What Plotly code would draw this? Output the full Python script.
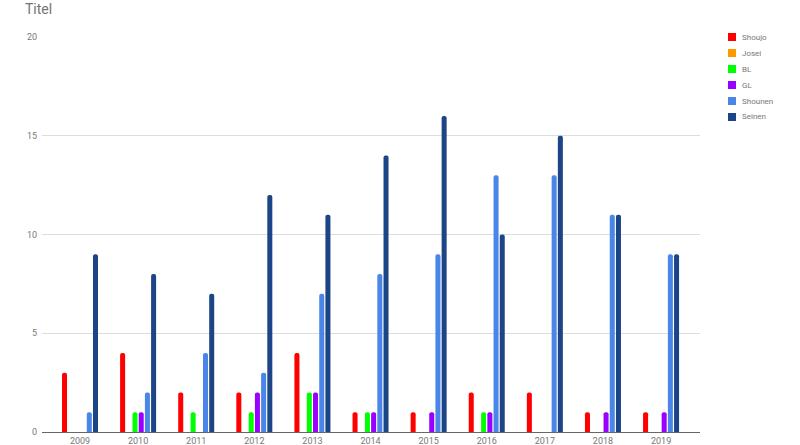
import plotly.graph_objects as go

years = ["2009", "2010", "2011", "2012", "2013", "2014", "2015", "2016", "2017", "2018", "2019"]
shoujo = [3, 4, 2, 2, 4, 1, 1, 2, 2, 1, 1]
josei = [0, 0, 0, 0, 0, 0, 0, 0, 0, 0, 0]
bl = [0, 1, 1, 1, 2, 1, 0, 1, 0, 0, 0]
gl = [0, 1, 0, 2, 2, 1, 1, 1, 0, 1, 1]
shounen = [1, 2, 4, 3, 7, 8, 9, 13, 13, 11, 9]
seinen = [9, 8, 7, 12, 11, 14, 16, 10, 15, 11, 9]

names = ["Shoujo", "Josei", "BL", "GL", "Shounen", "Seinen"]
values = [shoujo, josei, bl, gl, shounen, seinen]
colors = ["#ff0000", "#ff9900", "#00ff00", "#9900ff", "#4a86e8", "#1c4587"]

W, H = 800, 445
ML, MR, MT, MB = 42, 100, 37, 13

fig = go.Figure()
for name, vals, col in zip(names, values, colors):
    fig.add_trace(go.Bar(x=years, y=vals, name=name, showlegend=False,
                         marker=dict(color=col, line=dict(width=0), cornerradius=2)))

# custom compact legend (Google-Sheets style)
shapes = []
annotations = []
pw = W - ML - MR
ph = H - MT - MB
for i, (name, col) in enumerate(zip(names, colors)):
    cy = 37 + i * 16.0
    x0 = (728 - ML) / pw
    x1 = (736 - ML) / pw
    y0 = (H - MB - (cy + 4)) / ph
    y1 = (H - MB - (cy - 4)) / ph
    shapes.append(dict(type="rect", xref="paper", yref="paper", x0=x0, x1=x1, y0=y0, y1=y1,
                       fillcolor=col, line=dict(width=0)))
    annotations.append(dict(xref="paper", yref="paper", x=(740 - ML) / pw, y=(H - MB - cy) / ph,
                            xanchor="left", yanchor="middle", showarrow=False, text=name,
                            font=dict(family="Roboto", size=8, color="#777777")))

fig.update_layout(
    width=W, height=H,
    paper_bgcolor="white", plot_bgcolor="white",
    margin=dict(l=ML, r=MR, t=MT, b=MB, autoexpand=False),
    barmode="group", bargap=0.36, bargroupgap=0.19,
    title=dict(text="Titel", x=25 / W, xanchor="left", y=1 - 9 / H, yanchor="middle",
               font=dict(family="Roboto", size=14, color="#757575")),
    font=dict(family="Roboto", size=9, color="#666666"),
    showlegend=False,
    shapes=shapes,
    annotations=annotations,
    xaxis=dict(type="category", range=[-0.654, 10.67], showgrid=False, showline=True, automargin=False,
               linecolor="#666666", linewidth=1, ticks="", tickfont=dict(size=9, color="#777777")),
    yaxis=dict(range=[0, 20], tickvals=[0, 5, 10, 15, 20], gridcolor="#dddddd", gridwidth=1, automargin=False,
               zeroline=False, showline=False, ticks="", ticklabelstandoff=4,
               tickfont=dict(size=9, color="#777777")),
)

fig.write_html("out.html", config={"displayModeBar": False},
               post_script="document.body.style.margin='0';")
